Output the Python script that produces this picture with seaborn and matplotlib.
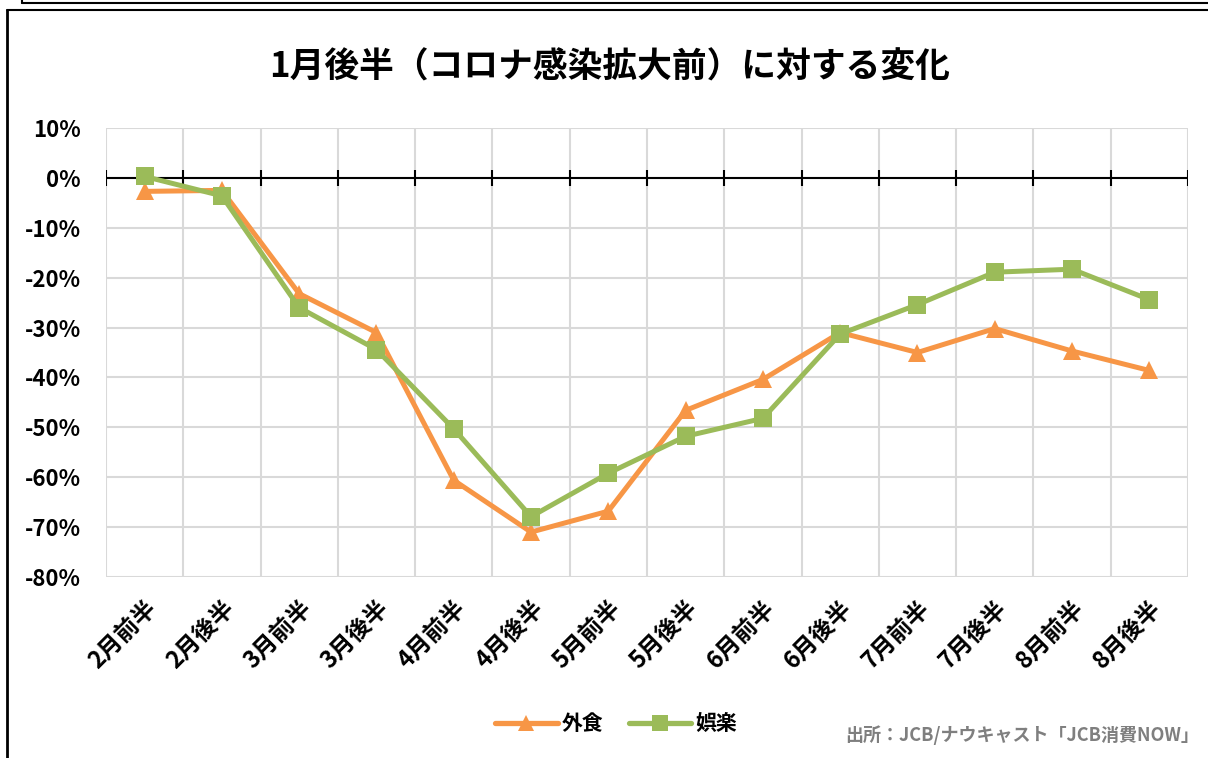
import numpy as np
import pandas as pd
import matplotlib.pyplot as plt
import seaborn as sns
from matplotlib.lines import Line2D
from matplotlib.ticker import PercentFormatter, MultipleLocator

# Half-month periods
periods = ['2月前半', '2月後半', '3月前半', '3月後半', '4月前半', '4月後半', '5月前半',
           '5月後半', '6月前半', '6月後半', '7月前半', '7月後半', '8月前半', '8月後半']

# Change vs. late January (%)
dining = [-2.7, -2.5, -23.2, -31.0, -60.6, -71.0, -66.8, -46.6, -40.4, -31.0, -35.0, -30.2, -34.7, -38.6]
leisure = [0.3, -3.6, -26.0, -34.4, -50.3, -67.9, -59.2, -51.8, -48.2, -31.3, -25.4, -18.9, -18.3, -24.4]

series_names = ['外食', '娯楽']
colors = {'外食': '#F79646', '娯楽': '#9BBB59'}
markers = {'外食': '^', '娯楽': 's'}

df = pd.DataFrame({'period': periods * 2,
                   'value': dining + leisure,
                   'series': ['外食'] * len(periods) + ['娯楽'] * len(periods)})
df['pos'] = df['period'].map({p: i for i, p in enumerate(periods)})

sns.set_theme(style='white')
plt.rcParams['font.family'] = ['Noto Sans CJK JP', 'DejaVu Sans']
plt.rcParams['axes.unicode_minus'] = False
plt.rcParams['text.color'] = 'black'
plt.rcParams['xtick.color'] = 'black'
plt.rcParams['ytick.color'] = 'black'

fig = plt.figure(figsize=(12.08, 7.58), dpi=100)
ax = fig.add_axes([0.0877, 0.2388, 0.8957, 0.5923])

sns.lineplot(data=df, x='pos', y='value', hue='series', style='series',
             hue_order=series_names, style_order=series_names,
             palette=colors, markers=markers, dashes=False,
             linewidth=3.6, markersize=13, markeredgewidth=0, ax=ax, legend=False)

ax.set_xlim(-0.5, len(periods) - 0.5)
ax.set_ylim(-80, 10)
ax.yaxis.set_major_locator(MultipleLocator(10))
ax.yaxis.set_major_formatter(PercentFormatter(decimals=0))
ax.set_xticks(range(len(periods)))
ax.set_xticklabels(periods, rotation=45, ha='right', rotation_mode='anchor',
                   fontsize=17, fontweight='bold')
ax.set_xticks(np.arange(len(periods) + 1) - 0.5, minor=True)
for lab in ax.get_yticklabels():
    lab.set_fontsize(16)
    lab.set_fontweight('bold')
ax.tick_params(axis='x', which='major', length=0, pad=14)
ax.tick_params(axis='x', which='minor', length=0)
ax.tick_params(axis='y', length=0, pad=18)
ax.set_xlabel('')
ax.set_ylabel('')

# Excel-style grid between categories
ax.grid(axis='y', which='major', color='#D9D9D9', linewidth=1.5)
ax.grid(axis='x', which='minor', color='#D9D9D9', linewidth=1.5)
ax.set_axisbelow(True)
for s in ax.spines.values():
    s.set_visible(False)

# zero line with tick marks at category boundaries
ax.axhline(0, color='black', linewidth=1.5, zorder=1.5)
ax.vlines(np.arange(len(periods) + 1) - 0.5, -1.6, 1.6, color='black', linewidth=1.5, zorder=1.5)

fig.text(0.505, 0.912, '1月後半（コロナ感染拡大前）に対する変化', ha='center', va='center',
         fontsize=25, fontweight='bold')

handles = [Line2D([], [], color=colors[n], marker=markers[n], linewidth=3.8,
                  markersize=12, markeredgewidth=0) for n in series_names]
fig.legend(handles, series_names, loc='center', bbox_to_anchor=(0.51, 0.045),
           ncol=2, frameon=False, handlelength=3.0, columnspacing=1.2, handletextpad=0.2,
           prop={'size': 15, 'weight': 'bold'})

fig.text(0.993, 0.017, '出所：JCB/ナウキャスト「JCB消費NOW」', ha='right', va='bottom',
         fontsize=13, fontweight='bold', color='#7F7F7F')

# frame lines of the surrounding layout
fig.add_artist(Line2D([0.018, 1.0], [0.996, 0.996], transform=fig.transFigure, color='black', linewidth=1.5))
fig.add_artist(Line2D([0.018, 0.018], [0.996, 1.0], transform=fig.transFigure, color='black', linewidth=1.5))
fig.add_artist(Line2D([0.006, 1.0], [0.987, 0.987], transform=fig.transFigure, color='black', linewidth=1.5))
fig.add_artist(Line2D([0.006, 0.006], [0.0, 0.987], transform=fig.transFigure, color='black', linewidth=2))

fig.savefig('out.png', dpi=100)
